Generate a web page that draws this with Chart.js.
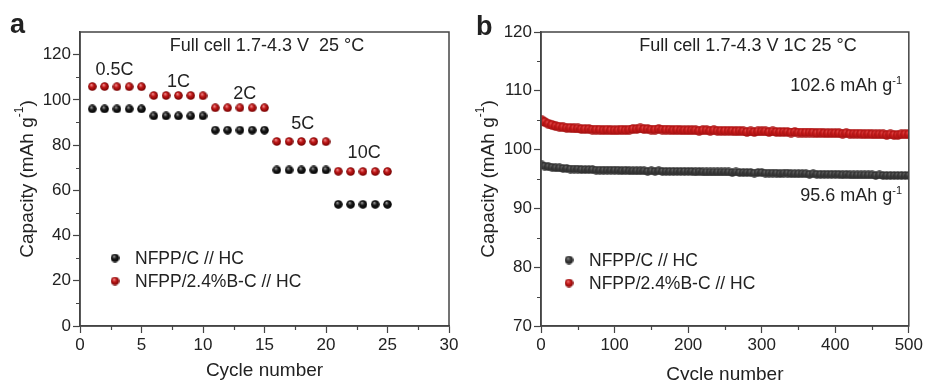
<!DOCTYPE html>
<html>
<head>
<meta charset="utf-8">
<script src="https://cdn.jsdelivr.net/npm/chart.js@4"></script>
<style>
  body { margin: 0; background: #fff; }
  #wrap { position: relative; width: 925px; height: 380px; }
  canvas { position: absolute; top: 0; }
  #chartA { left: 0; }
  #chartB { left: 463px; }
</style>
</head>
<body>
<div id="wrap">
  <canvas id="chartA" width="462" height="380"></canvas>
  <canvas id="chartB" width="462" height="380"></canvas>
</div>
<script>
// ---- panel a: rate capability ----
const rateCycles = [1, 2, 3, 4, 5, 6, 7, 8, 9, 10, 11, 12, 13, 14, 15, 16, 17, 18, 19, 20, 21, 22, 23, 24, 25];
const rateBare = [96.0, 96.0, 96.0, 96.0, 96.0, 92.9, 92.9, 92.9, 92.9, 92.9,
                  86.6, 86.6, 86.6, 86.6, 86.6, 69.0, 69.0, 69.0, 69.0, 69.0,
                  53.8, 53.8, 53.8, 53.8, 53.8];
const rateBoron = [105.9, 105.9, 105.8, 105.8, 105.8, 101.9, 101.9, 101.9, 101.9, 101.8,
                   96.5, 96.5, 96.5, 96.5, 96.5, 81.6, 81.6, 81.6, 81.6, 81.5,
                   68.4, 68.3, 68.3, 68.3, 68.3];
const rateNames = ['0.5C', '1C', '2C', '5C', '10C'];

// ---- panel b: long cycling at 1C ----
const longCycles = [1, 5, 10, 15, 20, 25, 30, 35, 40, 45,
                    50, 55, 60, 65, 70, 75, 80, 85, 90, 95,
                    100, 105, 110, 115, 120, 125, 130, 135, 140, 145,
                    150, 155, 160, 165, 170, 175, 180, 185, 190, 195,
                    200, 205, 210, 215, 220, 225, 230, 235, 240, 245,
                    250, 255, 260, 265, 270, 275, 280, 285, 290, 295,
                    300, 305, 310, 315, 320, 325, 330, 335, 340, 345,
                    350, 355, 360, 365, 370, 375, 380, 385, 390, 395,
                    400, 405, 410, 415, 420, 425, 430, 435, 440, 445,
                    450, 455, 460, 465, 470, 475, 480, 485, 490, 495,
                    500];
const longBoron = [105.0, 104.7, 104.4, 104.2, 104.0, 103.9, 103.8, 103.7, 103.7, 103.6,
                   103.6, 103.5, 103.5, 103.5, 103.4, 103.4, 103.4, 103.3, 103.4, 103.3,
                   103.3, 103.3, 103.4, 103.3, 103.4, 103.5, 103.5, 103.6, 103.5, 103.5,
                   103.4, 103.4, 103.5, 103.4, 103.4, 103.4, 103.3, 103.4, 103.3, 103.3,
                   103.3, 103.3, 103.3, 103.2, 103.3, 103.3, 103.2, 103.3, 103.2, 103.2,
                   103.2, 103.2, 103.2, 103.1, 103.2, 103.1, 103.0, 103.1, 103.0, 103.1,
                   103.1, 103.1, 103.0, 103.1, 103.0, 103.0, 103.0, 103.0, 102.9, 103.0,
                   102.9, 102.9, 102.9, 102.9, 102.9, 102.8, 102.9, 102.8, 102.8, 102.8,
                   102.8, 102.8, 102.7, 102.8, 102.7, 102.7, 102.7, 102.7, 102.6, 102.7,
                   102.6, 102.6, 102.6, 102.6, 102.5, 102.6, 102.5, 102.5, 102.6, 102.6,
                   102.6];
const longBare = [97.4, 97.2, 97.1, 97.0, 96.9, 96.9, 96.8, 96.8, 96.7, 96.7,
                  96.7, 96.6, 96.6, 96.6, 96.6, 96.5, 96.5, 96.5, 96.5, 96.5,
                  96.5, 96.5, 96.4, 96.5, 96.4, 96.4, 96.4, 96.4, 96.4, 96.3,
                  96.4, 96.3, 96.4, 96.3, 96.3, 96.3, 96.3, 96.3, 96.3, 96.3,
                  96.3, 96.3, 96.2, 96.3, 96.2, 96.2, 96.2, 96.2, 96.2, 96.2,
                  96.2, 96.2, 96.1, 96.2, 96.1, 96.1, 96.1, 96.1, 96.0, 96.1,
                  96.1, 96.0, 96.0, 96.0, 96.0, 95.9, 96.0, 96.0, 95.9, 95.9,
                  95.9, 95.9, 95.9, 95.8, 95.9, 95.8, 95.8, 95.8, 95.8, 95.8,
                  95.8, 95.8, 95.7, 95.8, 95.7, 95.7, 95.7, 95.7, 95.7, 95.7,
                  95.7, 95.6, 95.7, 95.6, 95.6, 95.6, 95.6, 95.6, 95.6, 95.6,
                  95.6];

const seriesNames = ['NFPP/C // HC', 'NFPP/2.4%B-C // HC'];

// layout bits (kept apart from the data)
const rateLabelPos = [[2.8, 113], [8.0, 108], [13.4, 102.6], [18.1, 89.3], [23.1, 76.5]];
const FONT = '"Liberation Sans", Arial, sans-serif';
const INK = '#222';
const FRAME = '#444';

// shaded sphere markers like the original figure
function makeBall(d, light, mid, dark) {
    const c = document.createElement('canvas');
    c.width = d; c.height = d;
    const g = c.getContext('2d');
    const r = d / 2;
    const grad = g.createRadialGradient(r * 0.75, r * 0.6, 0, r, r, r);
    grad.addColorStop(0, light);
    grad.addColorStop(0.45, mid);
    grad.addColorStop(1, dark);
    g.fillStyle = grad;
    g.beginPath();
    g.arc(r, r, r - 0.2, 0, Math.PI * 2);
    g.fill();
    return c;
}

const ballBlackA = makeBall(9, '#b0b0b0', '#1a1a1a', '#000000');
const ballRedA = makeBall(9, '#f6a0a0', '#c01818', '#6e0000');
const ballBlackB = makeBall(9, '#6a6a6a', '#3c3c3c', '#2c2c2c');
const ballRedB = makeBall(10, '#e05050', '#c81c1c', '#a01010');

function minorTicks(scale, step, vertical, ctx) {
    ctx.save();
    ctx.strokeStyle = FRAME;
    ctx.lineWidth = 1.2;
    ctx.beginPath();
    for (let v = scale.min + step; v < scale.max; v += 2 * step) {
        const p = Math.round(scale.getPixelForValue(v)) + 0.5;
        if (vertical) {
            ctx.moveTo(scale.right, p);
            ctx.lineTo(scale.right - 4, p);
        } else {
            ctx.moveTo(p, scale.top);
            ctx.lineTo(p, scale.top + 4);
        }
    }
    ctx.stroke();
    ctx.restore();
}

function textWithSup(ctx, main, sup, xRight, y, size) {
    ctx.font = size + 'px ' + FONT;
    const wMain = ctx.measureText(main).width;
    ctx.font = Math.round(size * 0.62) + 'px ' + FONT;
    const wSup = ctx.measureText(sup).width;
    const x0 = xRight - wMain - wSup;
    ctx.textAlign = 'left';
    ctx.textBaseline = 'alphabetic';
    ctx.font = size + 'px ' + FONT;
    ctx.fillText(main, x0, y);
    ctx.font = Math.round(size * 0.62) + 'px ' + FONT;
    ctx.fillText(sup, x0 + wMain, y - size * 0.4);
}

function drawYTitle(ctx, cx, cy) {
    ctx.save();
    ctx.translate(cx, cy);
    ctx.rotate(-Math.PI / 2);
    ctx.fillStyle = INK;
    const size = 19;
    ctx.font = size + 'px ' + FONT;
    const main = 'Capacity (mAh g';
    const wMain = ctx.measureText(main).width;
    ctx.font = '12px ' + FONT;
    const wSup = ctx.measureText('-1').width;
    ctx.font = size + 'px ' + FONT;
    const wEnd = ctx.measureText(')').width;
    const x0 = -(wMain + wSup + wEnd) / 2;
    ctx.textBaseline = 'middle';
    ctx.textAlign = 'left';
    ctx.fillText(main, x0, 0);
    ctx.font = '12px ' + FONT;
    ctx.fillText('-1', x0 + wMain, -8);
    ctx.font = size + 'px ' + FONT;
    ctx.fillText(')', x0 + wMain + wSup, 0);
    ctx.restore();
}

function decorPlugin(opts) {
    return {
        id: 'decor',
        afterDraw(chart) {
            const ctx = chart.ctx;
            const a = chart.chartArea;
            const xs = chart.scales.x, ys = chart.scales.y;
            ctx.save();
            // frame on all four sides
            ctx.strokeStyle = FRAME;
            ctx.lineWidth = 1.5;
            ctx.strokeRect(a.left, a.top, a.right - a.left, a.bottom - a.top);
            minorTicks(xs, opts.xMinor, false, ctx);
            minorTicks(ys, opts.yMinor, true, ctx);

            ctx.fillStyle = INK;
            // panel letter
            ctx.font = 'bold 27px ' + FONT;
            ctx.textAlign = 'left';
            ctx.textBaseline = 'alphabetic';
            ctx.fillText(opts.letter, opts.letterX, opts.letterY);

            // axis titles
            ctx.font = '19px ' + FONT;
            ctx.textAlign = 'center';
            ctx.textBaseline = 'alphabetic';
            ctx.fillText('Cycle number', (a.left + a.right) / 2, opts.xTitleY);
            drawYTitle(ctx, opts.yTitleX, (a.top + a.bottom) / 2);

            // condition note
            ctx.font = '18px ' + FONT;
            ctx.textAlign = 'center';
            ctx.fillText(opts.note, opts.noteX, 51);

            // legend
            const balls = opts.legendBalls;
            ctx.font = '17.5px ' + FONT;
            ctx.textAlign = 'left';
            ctx.textBaseline = 'middle';
            seriesNames.forEach((name, i) => {
                const y = opts.legendY + i * 23;
                ctx.drawImage(balls[i], opts.legendX - balls[i].width / 2, y - balls[i].height / 2);
                ctx.fillText(name, opts.legendX + 20, y + 1);
            });

            if (opts.extra) opts.extra(chart, ctx);
            ctx.restore();
        }
    };
}

function axis(min, max, step, fit) {
    return {
        type: 'linear',
        min: min,
        max: max,
        afterBuildTicks: (s) => { s.ticks = s.ticks.filter(t => Math.abs((t.value - min) / step - Math.round((t.value - min) / step)) < 1e-6); },
        afterFit: fit,
        ticks: { stepSize: step, color: INK, font: { family: FONT, size: 17 }, padding: 2 },
        grid: { drawOnChartArea: false, drawTicks: true, tickLength: 7, tickColor: FRAME, tickWidth: 1.2 },
        border: { color: FRAME, width: 1.5 }
    };
}

function pts(xs, ys) {
    return xs.map((x, i) => ({ x: x, y: ys[i] }));
}

// panel a
new Chart(document.getElementById('chartA'), {
    type: 'scatter',
    data: {
        datasets: [
            { label: seriesNames[0], data: pts(rateCycles, rateBare), pointStyle: ballBlackA, pointRadius: 4.5 },
            { label: seriesNames[1], data: pts(rateCycles, rateBoron), pointStyle: ballRedA, pointRadius: 4.5 }
        ]
    },
    options: {
        responsive: false,
        animation: false,
        devicePixelRatio: 1,
        layout: { padding: { left: 0, right: 13, top: 32, bottom: 0 } },
        plugins: { legend: { display: false }, tooltip: { enabled: false } },
        scales: {
            x: axis(0, 30, 5, (s) => { s.height = 54; }),
            y: axis(0, 130, 20, (s) => { s.width = 80; })
        }
    },
    plugins: [decorPlugin({
        letter: 'a', letterX: 10, letterY: 33,
        note: 'Full cell 1.7-4.3 V  25 \u00b0C', noteX: 267,
        xMinor: 2.5, yMinor: 10,
        xTitleY: 376, yTitleX: 28,
        legendBalls: [ballBlackA, ballRedA], legendX: 115, legendY: 258,
        extra(chart, ctx) {
            const xs = chart.scales.x, ys = chart.scales.y;
            ctx.font = '18px ' + FONT;
            ctx.textAlign = 'center';
            ctx.textBaseline = 'middle';
            rateNames.forEach((name, i) => {
                ctx.fillText(name, xs.getPixelForValue(rateLabelPos[i][0]), ys.getPixelForValue(rateLabelPos[i][1]));
            });
        }
    })]
});

// panel b
new Chart(document.getElementById('chartB'), {
    type: 'scatter',
    data: {
        datasets: [
            { label: seriesNames[0], data: pts(longCycles, longBare), pointStyle: ballBlackB, pointRadius: 4.5 },
            { label: seriesNames[1], data: pts(longCycles, longBoron), pointStyle: ballRedB, pointRadius: 5 }
        ]
    },
    options: {
        responsive: false,
        animation: false,
        devicePixelRatio: 1,
        layout: { padding: { left: 0, right: 16, top: 32, bottom: 0 } },
        plugins: { legend: { display: false }, tooltip: { enabled: false } },
        scales: {
            x: axis(0, 500, 100, (s) => { s.height = 54; }),
            y: axis(70, 120, 10, (s) => { s.width = 78; })
        }
    },
    plugins: [decorPlugin({
        letter: 'b', letterX: 13, letterY: 35,
        note: 'Full cell 1.7-4.3 V 1C 25 \u00b0C', noteX: 285,
        xMinor: 50, yMinor: 5,
        xTitleY: 380, yTitleX: 26,
        legendBalls: [makeBall(9, '#909090', '#3c3c3c', '#1c1c1c'), makeBall(9, '#f08080', '#c81c1c', '#7a0000')],
        legendX: 106, legendY: 260,
        extra(chart, ctx) {
            ctx.fillStyle = INK;
            textWithSup(ctx, '102.6 mAh g', '-1', 439, 91, 18);
            textWithSup(ctx, '95.6 mAh g', '-1', 439, 201, 18);
        }
    })]
});
</script>
</body>
</html>
